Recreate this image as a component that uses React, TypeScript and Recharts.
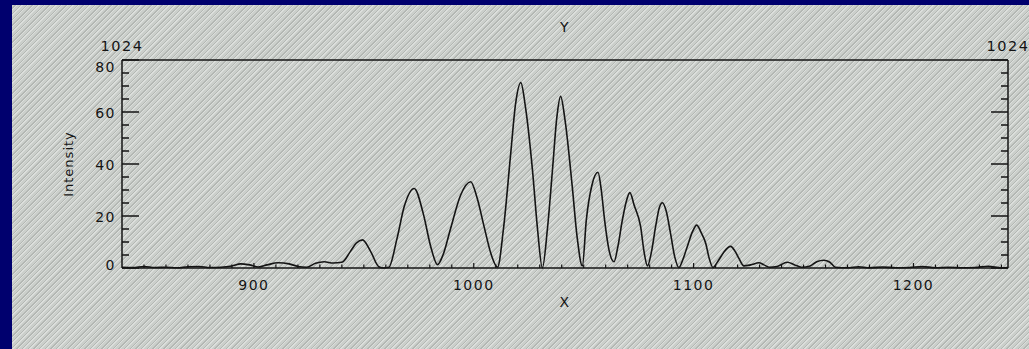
import React from 'react';
import { LineChart, Line, XAxis, YAxis, ReferenceLine } from 'recharts';

// intensity profile along X
const xValues = [
  840, 845, 850, 855, 860, 865, 870, 875, 880, 885, 890, 894, 898, 902, 906, 911, 916, 920, 924, 928,
  932, 936, 940, 944, 946.5, 949.4, 953, 956.8, 959, 961.4, 965, 968.5, 972.9, 977, 980.5, 983.5, 986, 989.5, 994, 998.6,
  1001.5, 1004.7, 1008, 1010.8, 1013.5, 1016.8, 1019, 1021.4, 1023.5, 1026.7, 1029, 1031.2, 1033.5, 1035.8, 1037.8, 1039.5, 1041.5, 1044.8, 1047, 1049.4,
  1051.2, 1053.8, 1056.5, 1058, 1059.5, 1061.5, 1063.8, 1065.5, 1067.6, 1069.5, 1071, 1073, 1075.9, 1077.5, 1079, 1081, 1082.7, 1084.5, 1085.8, 1087.5,
  1089.5, 1091.5, 1093.3, 1095, 1097.1, 1099.5, 1101.4, 1103.5, 1105.5, 1107, 1108.8, 1111, 1113.5, 1116.8, 1118.8, 1120.6, 1122.9, 1126, 1129.7, 1132,
  1134.5, 1138, 1142.6, 1146, 1149, 1153, 1156, 1159.2, 1162, 1164.5, 1170, 1175, 1180, 1186, 1192, 1198, 1204, 1210, 1216, 1222,
  1228, 1234, 1240, 1243,
];
const intensity = [
  0.3, 0.2, 0.6, 0.2, 0.3, 0.1, 0.5, 0.6, 0.2, 0.3, 0.8, 1.6, 1.2, 0.4, 1.2, 2.0, 1.6, 0.6, 0.3, 1.8,
  2.4, 1.9, 2.2, 6.5, 9.5, 10.8, 6.5, 0.5, 0, 0.3, 11, 24, 30.6, 21, 8, 1.3, 5, 15.3, 28, 33.2,
  27, 15.9, 5, 0.3, 15, 44, 63, 71.3, 62, 37.7, 15, 0, 15, 37.7, 58, 66, 57, 31.3, 12, 0.8,
  18.5, 32, 36.8, 30, 18.5, 7, 2.4, 8, 18.5, 26, 29, 24, 15.9, 6, 0.8, 7, 15.9, 23.5, 25.1, 22,
  13.3, 4, 0.2, 3, 8.2, 14, 16.5, 13.5, 9.5, 4, 0.2, 2.5, 5.8, 8.3, 6.5, 3.7, 0.8, 1.2, 2.0, 1.2,
  0.3, 0.6, 2.2, 1.2, 0.3, 0.8, 2.4, 3.0, 2.2, 0.3, 0.1, 0.5, 0.1, 0.4, 0.1, 0.2, 0.6, 0.1, 0.3, 0.1,
  0.2, 0.7, 0.1, 0.2,
];

const xDomain = [840, 1243];
const yDomain = [0, 80];
const xTicks = [850, 860, 870, 880, 890, 900, 910, 920, 930, 940, 950, 960, 970, 980, 990, 1000, 1010, 1020, 1030, 1040,
  1050, 1060, 1070, 1080, 1090, 1100, 1110, 1120, 1130, 1140, 1150, 1160, 1170, 1180, 1190, 1200, 1210, 1220, 1230, 1240];
const xLabelTicks = [900, 1000, 1100, 1200];
const yMinorTicks = [0, 5, 10, 15, 20, 25, 30, 35, 40, 45, 50, 55, 60, 65, 70, 75, 80];
const yTicks = [0, 20, 40, 60, 80];
const topTicks = [840, 1243];
const topLabels = ['1024', '1024'];

const data = xValues.map((x, i) => ({ x, y: intensity[i] }));

const ink = '#141414';
const font = { fontFamily: 'DejaVu Sans', fontSize: 14, letterSpacing: 1.5, fill: ink };
const frame = { stroke: ink, strokeWidth: 1.5 };

// inward tick marks on both sides of the frame, drawn on a horizontal reference line
const YTickMarks = (props: any) => {
  const { x1, x2, y1 } = props;
  const l = Math.min(x1, x2);
  const r = Math.max(x1, x2);
  const len = props.major ? 17 : 7;
  return (
    <path d={`M${l},${y1}H${l + len}M${r - len},${y1}H${r}`} stroke={ink} strokeWidth={1.5} fill="none" />
  );
};

// short upward tick marks on the bottom edge
const XTickMark = (props: any) => {
  const { x1, y1, y2 } = props;
  const b = Math.max(y1, y2);
  const len = props.major ? 5 : 3.5;
  return <path d={`M${x1},${b}V${b - len}`} stroke={ink} strokeWidth={1.2} fill="none" />;
};

const YLabelTick = (props: any) => {
  const v = props.payload.value;
  // end labels sit a little inside the frame, as in the original
  const dy = v === yDomain[1] ? 7 : v === yDomain[0] ? -3 : 1;
  return (
    <text x={props.x} y={Number(props.y) + dy} textAnchor="end" dominantBaseline="central" {...font}>
      {v}
    </text>
  );
};

const XLabelTick = (props: any) => {
  const v = props.payload.value;
  if (!xLabelTicks.includes(v)) return <g />;
  return (
    <text x={props.x} y={Number(props.y) + 22} textAnchor="middle" {...font}>
      {v}
    </text>
  );
};

const TopTick = (props: any) => (
  <text x={props.x} y={Number(props.y) - 9} textAnchor="middle" {...font} fontSize={14.5}>
    {topLabels[props.index]}
  </text>
);

const IntensityLabel = (props: any) => {
  const vb = props.viewBox;
  const cy = vb.y + vb.height / 2;
  return (
    <text x={68} y={cy} textAnchor="middle" dominantBaseline="central" transform={`rotate(-90 68 ${cy})`}
      fontFamily="DejaVu Sans" fontSize={13} letterSpacing={1} fill={ink}>
      Intensity
    </text>
  );
};

export default function App() {
  return (
    <div style={{ position: 'absolute', left: 0, top: 0, width: 1029, height: 349, background: '#00006e' }}>
      <div
        style={{
          position: 'absolute', left: 12, top: 5, right: 0, bottom: 0,
          background: 'repeating-linear-gradient(135deg, #cbcfcb 0px, #cbcfcb 2px, #b3b7b3 2px, #b3b7b3 3px, #dcdfdc 3px, #dcdfdc 4px)',
        }}
      />
      <div style={{ position: 'absolute', left: 0, top: 0 }}>
        <LineChart width={1029} height={349} data={data} margin={{ top: 0, right: 20, bottom: 0, left: 0 }}>
          <XAxis
            dataKey="x" type="number" domain={xDomain} allowDataOverflow ticks={xTicks} interval={0}
            height={81} tickSize={0} tickMargin={0} tick={<XLabelTick />} tickLine={false}
            axisLine={frame}
            label={{ value: 'X', position: 'insideTop', offset: 29, style: font }}
          />
          <XAxis
            xAxisId="top" orientation="top" dataKey="x" type="number" domain={xDomain} allowDataOverflow
            ticks={topTicks} interval={0} height={60} tickSize={0} tickMargin={0} tick={<TopTick />} tickLine={false}
            axisLine={frame}
            label={{ value: 'Y', position: 'insideTop', offset: 22, style: font }}
          />
          <YAxis
            yAxisId="left" domain={yDomain} ticks={yTicks} interval={0} width={122} tickSize={0} tickMargin={6}
            tick={<YLabelTick />} tickLine={false} axisLine={frame}
            label={<IntensityLabel />}
          />
          <YAxis
            yAxisId="right" orientation="right" domain={yDomain} ticks={yTicks} interval={0} width={1}
            tickSize={0} tick={false} tickLine={false} axisLine={frame}
          />
          {yMinorTicks.map((v) => (
            <ReferenceLine key={`y${v}`} yAxisId="left" y={v} shape={<YTickMarks major={yTicks.includes(v)} />} />
          ))}
          {xTicks.map((v) => (
            <ReferenceLine key={`x${v}`} yAxisId="left" x={v} shape={<XTickMark major={xLabelTicks.includes(v)} />} />
          ))}
          <Line yAxisId="left" type="monotone" dataKey="y" stroke={ink} strokeWidth={1.6} dot={false} isAnimationActive={false} />
        </LineChart>
      </div>
    </div>
  );
}
